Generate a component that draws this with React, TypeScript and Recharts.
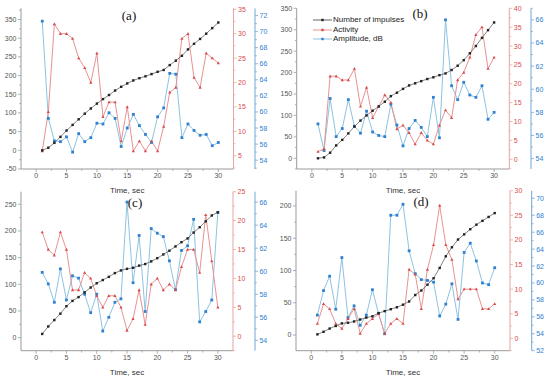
import React from 'react';
import { ComposedChart, Line, XAxis, YAxis } from 'recharts';

const time = Array.from({ length: 30 }, (_, i) => i + 1);

// panel (a)
const impulsesA = [0, 7, 20, 36, 53, 68, 83, 98, 112, 125, 137, 148, 160, 170, 179, 187, 193, 198, 204, 210, 215, 228, 240, 253, 270, 285, 298, 312, 327, 342];
const activityA = [6, 14, 32, 30, 30, 29, 25, 23, 20, 26, 13, 16, 16, 8, 15, 6, 8, 6, 8, 6, 11, 18, 19, 29, 30, 21, 19, 26, 25, 24];
const amplitudeA = [71.3, 59.2, 56.4, 56.3, 56.9, 55.0, 57.3, 56.3, 56.8, 58.6, 58.5, 59.9, 59.2, 55.7, 58.0, 59.7, 58.3, 57.2, 56.2, 59.4, 60.5, 64.8, 64.7, 56.8, 58.5, 57.7, 57.1, 57.2, 55.8, 56.2];

// panel (b)
const impulsesB = [0, 2, 13, 30, 43, 58, 74, 88, 100, 111, 121, 132, 145, 153, 162, 170, 175, 180, 185, 189, 194, 198, 206, 216, 229, 245, 262, 281, 299, 317];
const activityB = [2, 2.7, 22, 22, 21, 21, 24, 14, 19, 11, 14, 17, 15, 8, 9, 7, 4, 7, 5, 4, 9, 13, 11, 21, 23, 27, 33, 35, 24, 27];
const amplitudeB = [57.0, 54.7, 59.2, 55.9, 56.6, 59.1, 56.8, 56.2, 58.1, 56.3, 56.0, 55.9, 58.7, 56.9, 55.1, 56.6, 57.3, 56.7, 55.9, 59.3, 55.8, 66.0, 60.3, 59.1, 60.6, 59.5, 59.3, 60.3, 57.4, 58.0];

// panel (c)
const impulsesC = [7, 21, 33, 45, 59, 69, 76, 85, 94, 102, 108, 114, 121, 126, 129, 131, 135, 138, 143, 149, 156, 163, 171, 179, 186, 197, 207, 218, 229, 235];
const activityC = [18, 15, 14, 18, 15, 8, 8, 11, 10, 7, 5, 7, 7, 5, 1, 3, 8, 2, 9, 10, 8, 9, 8, 12, 15, 15, 11, 21, 13, 5];
const amplitudeC = [59.9, 58.9, 57.3, 60.2, 57.5, 59.6, 59.4, 58.0, 56.4, 58.0, 54.8, 56.0, 57.3, 57.6, 66.0, 59.0, 63.1, 56.5, 63.7, 63.3, 63.0, 60.9, 58.4, 61.8, 62.2, 64.5, 55.6, 56.5, 57.5, 65.1];

// panel (d)
const impulsesD = [1, 5, 10, 14, 18, 19, 21, 24, 27, 29, 34, 37, 40, 43, 47, 52, 62, 69, 78, 88, 104, 122, 136, 148, 156, 164, 171, 177, 183, 189];
const activityD = [3, 7, 6, 3, 2, 4, 6, 1, 3, 4, 5, 1, 3, 4, 3, 14, 13, 6, 14, 19, 27, 19, 16, 8, 10, 10, 10, 6, 6, 7];
const amplitudeD = [56.2, 59.1, 60.8, 56.9, 63.0, 55.9, 57.3, 55.0, 56.2, 59.2, 56.4, 54.0, 68.0, 68.0, 69.3, 63.8, 61.1, 60.4, 60.3, 60.1, 56.1, 57.5, 59.9, 55.7, 63.6, 64.7, 62.6, 60.0, 59.8, 61.8];

const BLACK = '#222';
const RED = '#d84c4c';
const RED_LINE = '#e89292';
const RED_AXIS = '#e8a3a3';
const BLUE = '#2f80d0';
const BLUE_LINE = '#8cc3e2';
const BLUE_AXIS = '#6ea8d8';
const GREY_AXIS = '#9a9a9a';
const FONT = '"Liberation Sans", Arial, sans-serif';

const TICK = 3;
const GAP = 1.5;
const TICK_FONT = 7;

const range = (from: number, to: number, step: number) => {
  const out: number[] = [];
  for (let v = from; v <= to + 1e-9; v += step) out.push(Math.round(v * 1000) / 1000);
  return out;
};

const isMajor = (v: number, step: number) => Math.abs(v / step - Math.round(v / step)) < 1e-6;

const makeTick = (side: 'left' | 'right' | 'bottom', color: string, lineColor: string, step: number) => (props: any) => {
  const { x, y, payload } = props;
  const v = payload.value;
  const major = isMajor(v, step);
  const len = major ? TICK : 1.8;
  if (side === 'bottom') {
    const ay = y - TICK - GAP;
    return (
      <g>
        <line x1={x} x2={x} y1={ay} y2={ay + len} stroke={lineColor} strokeWidth={0.8} />
        {major && (
          <text x={x} y={y} dy="0.71em" textAnchor="middle" fill={color} fontSize={TICK_FONT} fontFamily={FONT}>{v}</text>
        )}
      </g>
    );
  }
  const dir = side === 'left' ? -1 : 1;
  const ax = x - dir * (TICK + GAP);
  return (
    <g>
      <line x1={ax} x2={ax + dir * len} y1={y} y2={y} stroke={lineColor} strokeWidth={0.8} />
      {major && (
        <text x={x} y={y} dy="0.355em" textAnchor={side === 'left' ? 'end' : 'start'} fill={color} fontSize={TICK_FONT} fontFamily={FONT}>{v}</text>
      )}
    </g>
  );
};

const squareDot = (color: string, size: number) => (props: any) => {
  const { cx, cy, index } = props;
  if (cx == null || cy == null) return <g key={index} />;
  return <rect key={index} x={cx - size / 2} y={cy - size / 2} width={size} height={size} fill={color} />;
};

const triDot = (color: string) => (props: any) => {
  const { cx, cy, index } = props;
  if (cx == null || cy == null) return <g key={index} />;
  return <path key={index} d={`M${cx},${cy - 1.7} L${cx + 1.6},${cy + 1.2} L${cx - 1.6},${cy + 1.2} Z`} fill={color} />;
};

interface AxisSpec {
  domain: [number, number];
  ticks: number[];
  step: number;
}

interface PanelProps {
  left: number;
  top: number;
  height: number;
  marginTop: number;
  leftW: number;
  redW: number;
  blueW: number;
  impulses: number[];
  activity: number[];
  amplitude: number[];
  yLeft: AxisSpec;
  yRed: AxisSpec;
  yBlue: AxisSpec;
}

const xTicks = range(0, 30, 2.5);

// right axes get stacked in id order: r1 (activity) sits next to the plot, r2 (amplitude) outside it
const Panel: React.FC<PanelProps> = ({ left, top, height, marginTop, leftW, redW, blueW, impulses, activity, amplitude, yLeft, yRed, yBlue }) => {
  const data = time.map((t, i) => ({ t, imp: impulses[i], act: activity[i], amp: amplitude[i] }));
  return (
    <div style={{ position: 'absolute', left, top }}>
      <ComposedChart width={275} height={height} data={data} margin={{ top: marginTop, right: 0, left: 0, bottom: 0 }}>
        <XAxis
          dataKey="t"
          type="number"
          domain={[-2.5, 32.5]}
          ticks={xTicks}
          interval={0}
          height={26}
          stroke={GREY_AXIS}
          tickLine={false}
          tickSize={TICK}
          tickMargin={GAP}
          tick={makeTick('bottom', '#555', GREY_AXIS, 5)}
          label={{ value: 'Time, sec', position: 'insideBottom', offset: 2, fill: '#333', fontSize: 8, fontFamily: FONT }}
        />
        <YAxis
          yAxisId="l0"
          orientation="left"
          type="number"
          width={leftW}
          domain={yLeft.domain}
          ticks={yLeft.ticks}
          interval={0}
          allowDataOverflow
          stroke={GREY_AXIS}
          tickLine={false}
          tickSize={TICK}
          tickMargin={GAP}
          tick={makeTick('left', '#555', GREY_AXIS, yLeft.step)}
        />
        <YAxis
          yAxisId="r1"
          orientation="right"
          type="number"
          width={redW}
          domain={yRed.domain}
          ticks={yRed.ticks}
          interval={0}
          allowDataOverflow
          stroke={RED_AXIS}
          tickLine={false}
          tickSize={TICK}
          tickMargin={GAP}
          tick={makeTick('right', RED, RED_AXIS, yRed.step)}
        />
        <YAxis
          yAxisId="r2"
          orientation="right"
          type="number"
          width={blueW}
          domain={yBlue.domain}
          ticks={yBlue.ticks}
          interval={0}
          allowDataOverflow
          stroke={BLUE_AXIS}
          tickLine={false}
          tickSize={TICK}
          tickMargin={GAP}
          tick={makeTick('right', BLUE, BLUE_AXIS, yBlue.step)}
        />
        <Line yAxisId="r2" dataKey="amp" stroke={BLUE_LINE} strokeWidth={1} dot={squareDot(BLUE, 2.8)} isAnimationActive={false} />
        <Line yAxisId="r1" dataKey="act" stroke={RED_LINE} strokeWidth={1} dot={triDot(RED)} isAnimationActive={false} />
        <Line yAxisId="l0" dataKey="imp" stroke="#666" strokeWidth={0.8} dot={squareDot(BLACK, 2.4)} isAnimationActive={false} />
      </ComposedChart>
    </div>
  );
};

const PanelLabel: React.FC<{ x: number; y: number; text: string }> = ({ x, y, text }) => (
  <div style={{ position: 'absolute', left: x, top: y, fontFamily: '"Liberation Serif", "Times New Roman", serif', fontSize: 13, lineHeight: '15px', color: '#111', transform: 'translateX(-50%)' }}>
    {text}
  </div>
);

const legendItems = [
  { name: 'Number of impulses', line: '#666', mark: BLACK },
  { name: 'Activity', line: RED_LINE, mark: RED },
  { name: 'Amplitude, dB', line: BLUE_LINE, mark: BLUE },
];

const App: React.FC = () => {
  return (
    <div style={{ position: 'absolute', left: 0, top: 0, width: 550, height: 378, background: '#fff', overflow: 'hidden' }}>
      <Panel
        left={0} top={0} height={195} marginTop={8.3} leftW={21} redW={21.5} blueW={20}
        impulses={impulsesA} activity={activityA} amplitude={amplitudeA}
        yLeft={{ domain: [-50, 380], ticks: range(-50, 375, 25), step: 50 }}
        yRed={{ domain: [2.3, 35.2], ticks: range(2.5, 35, 2.5), step: 5 }}
        yBlue={{ domain: [52.9, 72.9], ticks: range(53, 72, 1), step: 2 }}
      />
      <Panel
        left={275} top={0} height={195} marginTop={8.3} leftW={21.7} redW={21.7} blueW={19}
        impulses={impulsesB} activity={activityB} amplitude={amplitudeB}
        yLeft={{ domain: [-25, 350], ticks: range(-25, 350, 25), step: 50 }}
        yRed={{ domain: [-2.6, 40], ticks: range(-2.5, 40, 2.5), step: 5 }}
        yBlue={{ domain: [53.1, 67], ticks: range(54, 67, 1), step: 2 }}
      />
      <Panel
        left={0} top={185} height={191.7} marginTop={6.7} leftW={21} redW={22} blueW={20}
        impulses={impulsesC} activity={activityC} amplitude={amplitudeC}
        yLeft={{ domain: [-24.4, 273.6], ticks: range(0, 250, 25), step: 50 }}
        yRed={{ domain: [-2.5, 25], ticks: range(-2.5, 25, 2.5), step: 5 }}
        yBlue={{ domain: [53.1, 66.9], ticks: range(54, 66, 1), step: 2 }}
      />
      <Panel
        left={275} top={185} height={191.7} marginTop={5.7} leftW={21} redW={21.7} blueW={18.3}
        impulses={impulsesD} activity={activityD} amplitude={amplitudeD}
        yLeft={{ domain: [-24.3, 223.7], ticks: range(0, 200, 25), step: 50 }}
        yRed={{ domain: [-2.5, 30], ticks: range(-2.5, 30, 2.5), step: 5 }}
        yBlue={{ domain: [52, 70.9], ticks: range(52, 70, 1), step: 2 }}
      />
      <PanelLabel x={129} y={7.5} text="(a)" />
      <PanelLabel x={420} y={6} text="(b)" />
      <PanelLabel x={135} y={195} text="(c)" />
      <PanelLabel x={421} y={194} text="(d)" />
      <div style={{ position: 'absolute', left: 313, top: 15.2, fontFamily: FONT, fontSize: 8, color: '#222', lineHeight: '9.6px' }}>
        {legendItems.map((it) => (
          <div key={it.name} style={{ display: 'flex', alignItems: 'center', height: 9.6 }}>
            <svg width={19} height={6} style={{ marginRight: 1 }}>
              <line x1={0} x2={19} y1={3} y2={3} stroke={it.line} strokeWidth={1} />
              <rect x={8.3} y={1.8} width={2.4} height={2.4} fill={it.mark} />
            </svg>
            <span>{it.name}</span>
          </div>
        ))}
      </div>
    </div>
  );
};

export default App;
